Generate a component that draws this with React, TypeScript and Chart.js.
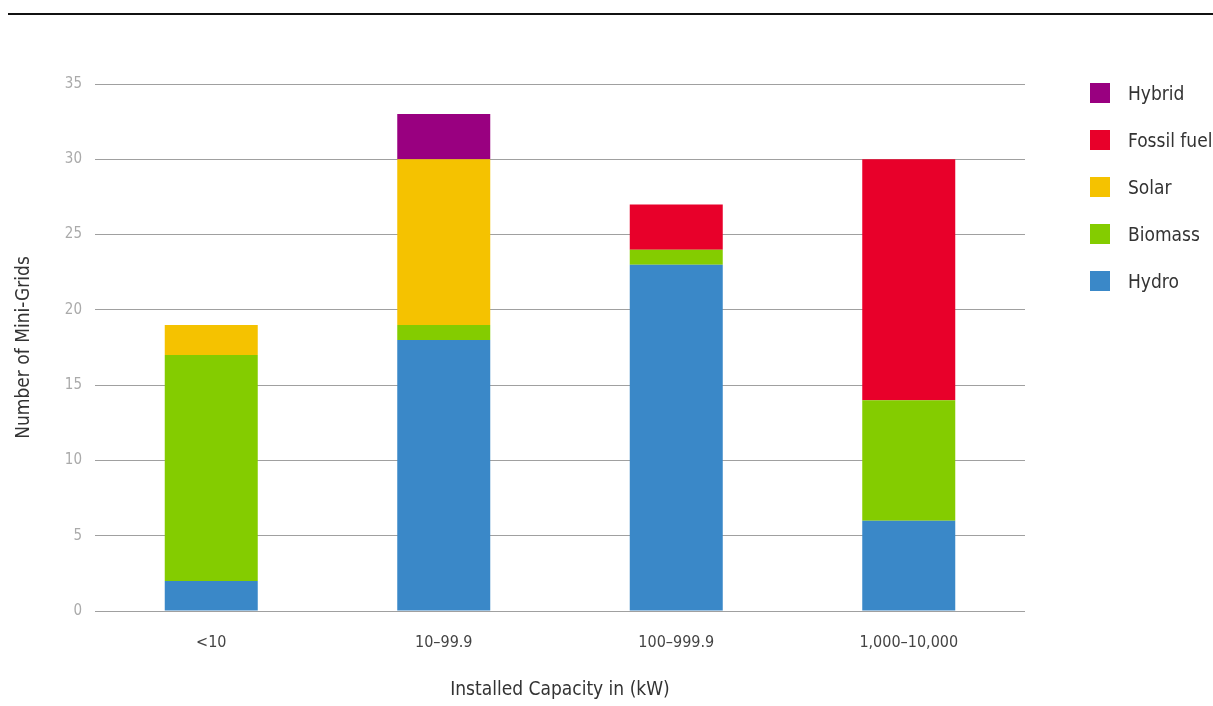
import React, { useEffect, useRef } from "react";
import { Chart, registerables } from "chart.js";

Chart.register(...registerables);

const categories = ["<10", "10–99.9", "100–999.9", "1,000–10,000"];

// stacked from the bottom up
const hydro = [2, 18, 23, 6];
const biomass = [15, 1, 1, 8];
const solar = [2, 11, 0, 0];
const fossilFuel = [0, 0, 3, 16];
const hybrid = [0, 3, 0, 0];

const seriesNames = ["Hydro", "Biomass", "Solar", "Fossil fuel", "Hybrid"];
const seriesColors = ["#3a88c8", "#84cc00", "#f5c200", "#e8002a", "#990080"];
const seriesValues = [hydro, biomass, solar, fossilFuel, hybrid];

const yTicks = [0, 5, 10, 15, 20, 25, 30, 35];

const FONT = "'DejaVu Sans Condensed', 'Liberation Sans Narrow', sans-serif";

export default function App() {
  const canvasRef = useRef<HTMLCanvasElement | null>(null);

  useEffect(() => {
    const canvas = canvasRef.current;
    if (!canvas) return;
    const chart = new Chart(canvas, {
      type: "bar",
      data: {
        labels: categories,
        datasets: seriesNames.map((name, i) => ({
          label: name,
          data: seriesValues[i],
          backgroundColor: seriesColors[i],
          borderWidth: 0,
          barPercentage: 0.4,
          categoryPercentage: 1,
        })),
      },
      options: {
        responsive: true,
        maintainAspectRatio: false,
        animation: false,
        layout: { padding: { top: 84, right: 188, left: 0, bottom: 0 } },
        plugins: {
          legend: { display: false },
          tooltip: { enabled: false },
        },
        scales: {
          x: {
            stacked: true,
            grid: { display: false, drawTicks: false },
            border: { display: false },
            ticks: {
              padding: 22,
              color: "#444",
              font: { family: FONT, size: 16 },
            },
            title: {
              display: true,
              text: "Installed Capacity in (kW)",
              color: "#333",
              font: { family: FONT, size: 19 },
              padding: { top: 24, bottom: 5 },
            },
            afterFit: (scale: any) => {
              scale.height = 95;
            },
          },
          y: {
            stacked: true,
            min: 0,
            max: 35,
            afterBuildTicks: (scale: any) => {
              scale.ticks = yTicks.map((v) => ({ value: v }));
            },
            grid: { color: "#a0a0a0", lineWidth: 1, drawTicks: false },
            border: { display: false },
            ticks: {
              padding: 13,
              color: "#aaa",
              font: { family: FONT, size: 15 },
            },
            title: {
              display: true,
              text: "Number of Mini-Grids",
              color: "#333",
              font: { family: FONT, size: 19 },
              padding: { top: 13, bottom: 0 },
            },
            afterFit: (scale: any) => {
              scale.width = 95;
            },
          },
        },
      },
    });
    return () => chart.destroy();
  }, []);

  const legendOrder = [4, 3, 2, 1, 0];

  return (
    <div style={{ position: "absolute", left: 0, top: 0, width: 1213, height: 706, background: "#fff", overflow: "hidden" }}>
      <div style={{ position: "absolute", left: 8, right: 0, top: 13, height: 2, background: "#111" }} />
      <div style={{ position: "absolute", left: 0, top: 0, width: 1213, height: 706 }}>
        <canvas ref={canvasRef} />
      </div>
      <div style={{ position: "absolute", left: 1090, top: 82, fontFamily: FONT, fontSize: 19, color: "#333" }}>
        {legendOrder.map((i, k) => (
          <div key={seriesNames[i]} style={{ position: "absolute", left: 0, top: k * 47, display: "flex", alignItems: "center", whiteSpace: "nowrap", height: 22 }}>
            <span style={{ display: "inline-block", width: 20, height: 20, background: seriesColors[i] }} />
            <span style={{ marginLeft: 18 }}>{seriesNames[i]}</span>
          </div>
        ))}
      </div>
    </div>
  );
}
